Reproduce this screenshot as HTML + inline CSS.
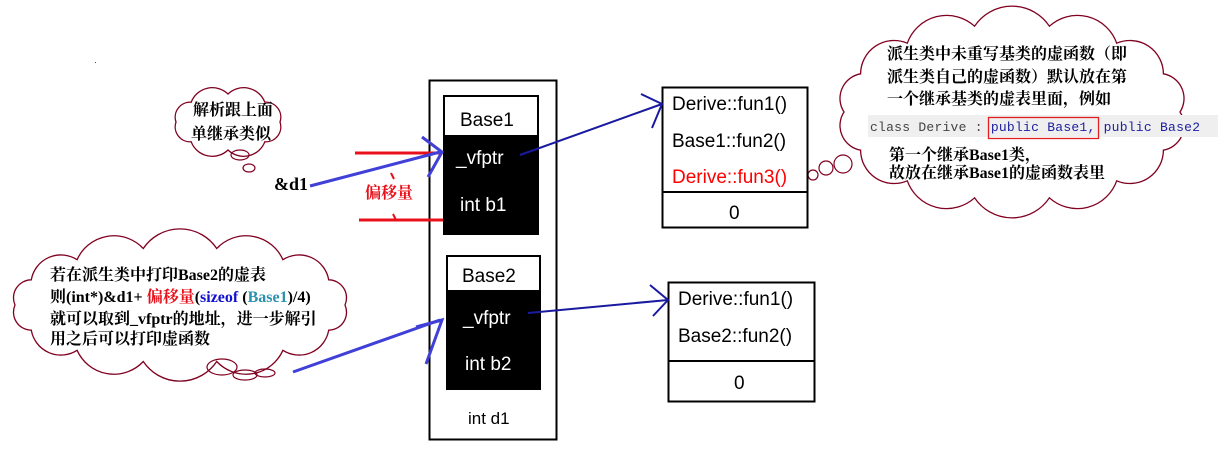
<!DOCTYPE html>
<html><head><meta charset="utf-8"><style>
body{margin:0;background:#fff;width:1218px;height:462px;overflow:hidden}
svg{display:block}
.cn{font-family:"Liberation Serif","Noto Serif CJK SC","Noto Sans CJK SC",serif;font-weight:bold;font-size:16px;fill:#000}
.ms{font-family:"Liberation Sans","DejaVu Sans",sans-serif;font-size:19px}
.mono{font-family:"Liberation Mono","DejaVu Sans Mono",monospace;font-size:13px}
</style></head><body>
<svg width="1218" height="462" viewBox="0 0 1218 462" xmlns="http://www.w3.org/2000/svg">
<g id="clouds" fill="none" stroke="#800020" stroke-width="1.3"></g>
<rect x="95" y="62" width="1" height="1" fill="red"/>
<g fill="none" stroke="#800020" stroke-width="1.2">
<ellipse cx="240" cy="155" rx="9" ry="5"/><ellipse cx="249" cy="168" rx="6" ry="4"/>
<ellipse cx="222" cy="367" rx="15" ry="8"/><ellipse cx="245" cy="375" rx="12" ry="5"/><ellipse cx="265" cy="373" rx="10" ry="4"/>
<circle cx="813" cy="175" r="5"/><circle cx="826" cy="168" r="7"/><circle cx="843" cy="164" r="9"/>
</g>
<rect x="429.5" y="80.5" width="127" height="359" fill="none" stroke="#000" stroke-width="2"/>
<rect x="443" y="95" width="96" height="140" fill="#000"/>
<rect x="445" y="97" width="92" height="38" fill="#fff"/>
<rect x="446" y="255" width="95" height="135" fill="#000"/>
<rect x="448" y="257" width="91" height="33" fill="#fff"/>
<g class="ms" fill="#000">
<text x="460" y="126">Base1</text>
<text x="462" y="282">Base2</text>
<text x="468" y="424" font-size="17">int d1</text>
</g>
<g class="ms" fill="#fff" font-size="18">
<text x="456" y="164">_vfptr</text>
<text x="460" y="211">int b1</text>
<text x="463" y="324">_vfptr</text>
<text x="465" y="370">int  b2</text>
</g>
<rect x="662.5" y="87.5" width="145" height="140" fill="#fff" stroke="#000" stroke-width="2"/>
<line x1="662" y1="192" x2="808" y2="192" stroke="#000" stroke-width="2"/>
<rect x="668.5" y="282.5" width="146" height="119" fill="#fff" stroke="#000" stroke-width="2"/>
<line x1="668" y1="361" x2="815" y2="361" stroke="#000" stroke-width="2"/>
<g class="ms" fill="#000">
<text x="672" y="110">Derive::fun1()</text>
<text x="672" y="147">Base1::fun2()</text>
<text x="672" y="183" fill="#f00">Derive::fun3()</text>
<text x="729" y="219">0</text>
<text x="678" y="305">Derive::fun1()</text>
<text x="678" y="342">Base2::fun2()</text>
<text x="734" y="389">0</text>
</g>
<g stroke="#e8101a" stroke-width="3">
<line x1="355" y1="153" x2="440" y2="153"/><line x1="359" y1="220" x2="443" y2="220"/>
</g>
<line x1="391" y1="173" x2="394" y2="179" stroke="#e8101a" stroke-width="2"/>
<line x1="393" y1="214" x2="396" y2="220" stroke="#e8101a" stroke-width="2"/>
<text x="365" y="198" class="cn" style="fill:#e8101a">偏移量</text>
<g stroke="#4040d8" stroke-width="3" fill="none">
<line x1="310" y1="186" x2="440" y2="152"/>
<polyline points="422,137 442,152 428,177"/>
<line x1="293" y1="372" x2="440" y2="320"/>
<polyline points="416,327 442,320 426,364"/>
</g>
<g stroke="#1a1aa0" stroke-width="2" fill="none">
<line x1="520" y1="155" x2="662" y2="104"/>
<polyline points="641,94 662,104 652,128"/>
<line x1="528" y1="313" x2="668" y2="300"/>
<polyline points="650,285 668,300 653,316"/>
</g>
<text x="274" y="190" style="font-family:'Liberation Serif',serif;font-weight:bold;font-size:18px" fill="#000">&amp;d1</text>
<text class="cn" x="193" y="115">解析跟上面</text>
<text class="cn" x="191" y="139">单继承类似</text>
<g class="cn" font-size="15">
<text x="50" y="280">若在派生类中打印Base2的虚表</text>
<text x="50" y="302">则(int*)&amp;d1+ <tspan style="fill:#e8101a">偏移量</tspan>(<tspan style="fill:#1010d0">sizeof</tspan> (<tspan style="fill:#2b91af">Base1</tspan>)/4)</text>
<text x="50" y="324">就可以取到_vfptr的地址，进一步解引</text>
<text x="50" y="344">用之后可以打印虚函数</text>
</g>
<g class="cn" font-size="16">
<text x="887" y="59">派生类中未重写基类的虚函数（即</text>
<text x="887" y="82">派生类自己的虚函数）默认放在第</text>
<text x="887" y="104">一个继承基类的虚表里面，例如</text>
<text x="889" y="160">第一个继承Base1类，</text>
<text x="889" y="178">故放在继承Base1的虚函数表里</text>
</g>
<rect x="868" y="115" width="350" height="22" fill="#efefef"/>
<rect x="988.5" y="117.5" width="110" height="21" fill="none" stroke="#e02020" stroke-width="1.3"/>
<text class="mono" x="870" y="131" fill="#444" textLength="330" lengthAdjust="spacing">class Derive : <tspan fill="#2020a0">public Base1,</tspan> <tspan fill="#2020a0">public Base2</tspan></text>
</svg>
<script>
function cloud(cx,cy,rx,ry,n){var p=[];for(var i=0;i<n;i++){var a=i/n*2*Math.PI;p.push([cx+rx*Math.cos(a),cy+ry*Math.sin(a)]);}
var d='M'+p[0][0].toFixed(1)+','+p[0][1].toFixed(1);for(var i=1;i<=n;i++){var q=p[i%n],pr=p[i-1];var L=Math.hypot(q[0]-pr[0],q[1]-pr[1]);var r=L*0.6;d+=' A'+r.toFixed(1)+','+r.toFixed(1)+' 0 0 1 '+q[0].toFixed(1)+','+q[1].toFixed(1);}return d+'Z';}
var g=document.getElementById('clouds');
[[228,122,52,28,8],[180,305,165,58,14],[1012,112,168,88,14]].forEach(function(c){var e=document.createElementNS('http://www.w3.org/2000/svg','path');e.setAttribute('d',cloud.apply(null,c));g.appendChild(e);});
</script>
</body></html>
